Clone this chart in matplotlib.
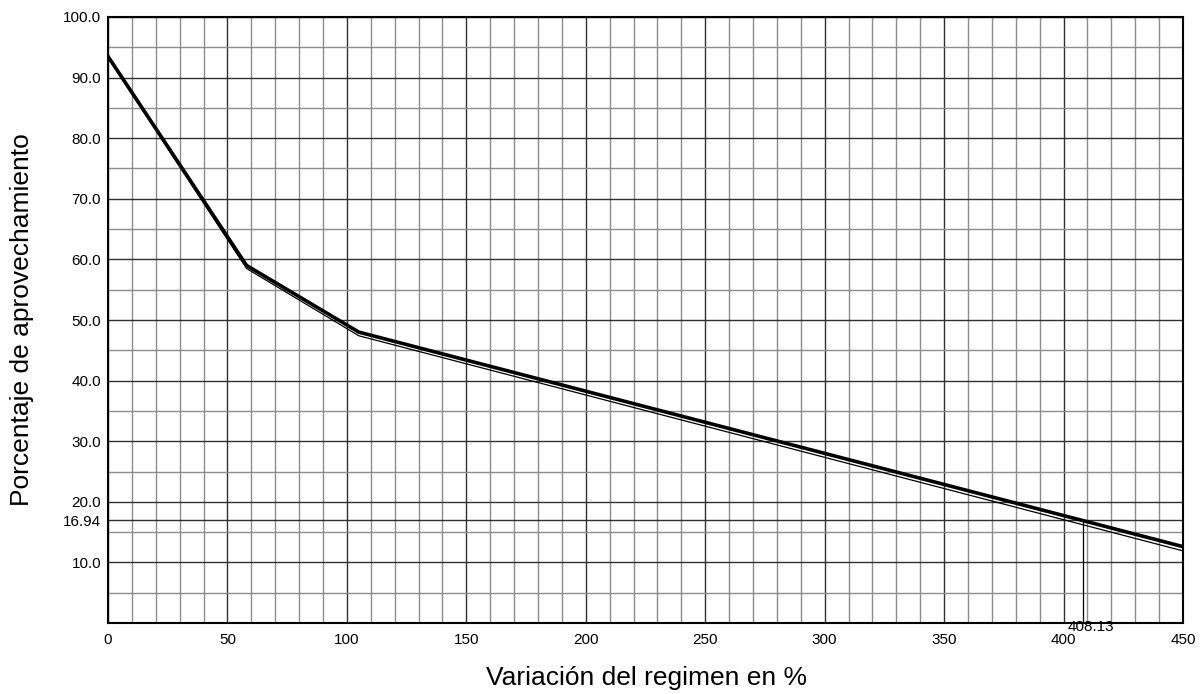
import matplotlib
matplotlib.use("Agg")
import matplotlib.pyplot as plt
import numpy as np

plt.rcParams['font.family'] = ['Liberation Sans', 'DejaVu Sans']

# curve
x_pts = [0, 58, 105, 450]
y_upper = [93.5, 59.0, 48.0, 12.6]
y_lower = [93.3, 58.5, 47.4, 11.9]

# marked point
x_mark = 408.13
y_mark = 16.94

x_ticks = [0, 50, 100, 150, 200, 250, 300, 350, 400, 450]
y_ticks = [10.0, y_mark, 20.0, 30.0, 40.0, 50.0, 60.0, 70.0, 80.0, 90.0, 100.0]
y_labels = ['10.0', '16.94', '20.0', '30.0', '40.0', '50.0',
            '60.0', '70.0', '80.0', '90.0', '100.0']

fig = plt.figure(figsize=(12.04, 6.94), dpi=100)
ax = fig.add_axes([108 / 1204, 71 / 694, 1075 / 1204, 606 / 694])

ax.set_xlim(0, 450)
ax.set_ylim(0, 100)

ax.set_xticks(x_ticks)
ax.set_xticklabels([str(v) for v in x_ticks])
ax.set_xticks(np.arange(0, 451, 10), minor=True)
ax.set_yticks(y_ticks)
ax.set_yticklabels(y_labels)
ax.set_yticks(np.arange(0, 101, 5), minor=True)

ax.grid(which='major', color='#303030', lw=1.0)
ax.grid(which='minor', color='#8c8c8c', lw=1.0)
ax.set_axisbelow(True)
ax.tick_params(which='both', length=0, labelsize=11)
ax.tick_params(axis='x', pad=7)
ax.tick_params(axis='y', pad=5)
for s in ax.spines.values():
    s.set_color('black')
    s.set_linewidth(1.5)

ax.plot(x_pts, y_lower, color='black', lw=0.9, solid_joinstyle='miter')
ax.plot(x_pts, y_upper, color='black', lw=2.6, solid_joinstyle='miter')

ax.plot([x_mark, x_mark], [0, y_mark], color='black', lw=0.9)
ax.text(x_mark + 3.4, -0.7, '408.13', ha='center', va='center', fontsize=11)

fig.text(646 / 1204, 1 - 678 / 694, 'Variación del regimen en %',
         ha='center', va='center', fontsize=19)
fig.text(22 / 1204, 1 - 320 / 694, 'Porcentaje de aprovechamiento',
         ha='center', va='center', rotation=90, fontsize=19)

plt.savefig("out.png", dpi=100)
